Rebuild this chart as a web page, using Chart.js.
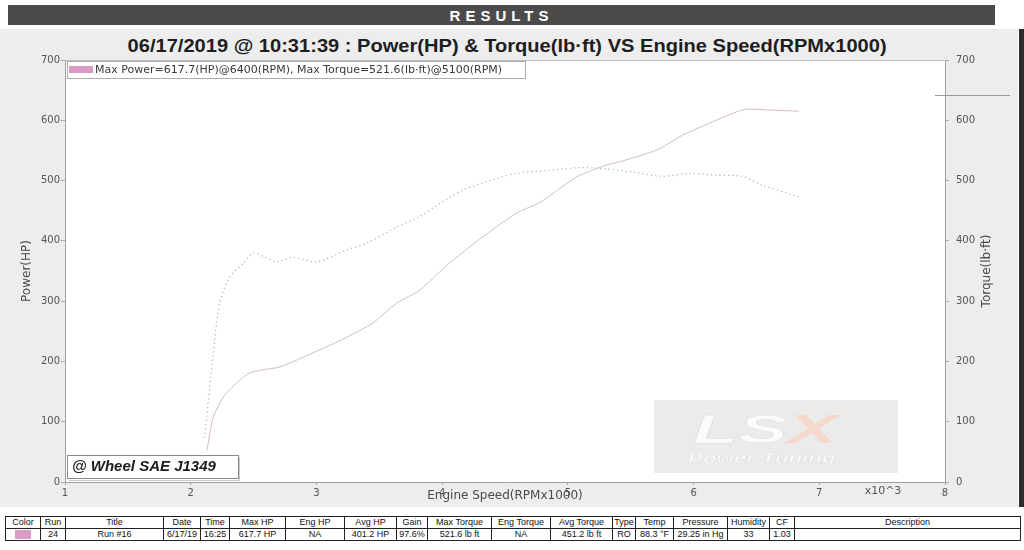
<!DOCTYPE html>
<html><head><meta charset="utf-8">
<script src="https://cdn.jsdelivr.net/npm/chart.js@4.4.0/dist/chart.umd.min.js"></script>
<style>
html,body{margin:0;padding:0;background:#fff;}
body{width:1024px;height:550px;position:relative;overflow:hidden;}
#panel{position:absolute;left:0;top:29px;width:1018px;height:478px;background:#ededed;}
#edge{position:absolute;left:1019px;top:29px;width:5px;height:478px;background:#2b2b2b;}
#banner{position:absolute;left:8px;top:5px;width:987px;height:20px;background:#4b4b4b;color:#fff;font:bold 15px "Liberation Sans",Arial,sans-serif;letter-spacing:5px;text-align:center;line-height:21px;}
#title{position:absolute;left:0;top:35px;width:1014px;text-align:center;font:bold 19px "Liberation Sans",Arial,sans-serif;color:#1e1e1e;white-space:nowrap;}
#title span{display:inline-block;transform-origin:50% 50%;}
canvas{position:absolute;left:0;top:0;}
table{position:absolute;left:5px;top:516px;width:1015px;border-collapse:collapse;table-layout:fixed;font:9px "Liberation Sans Narrow","Liberation Sans",Arial,sans-serif;color:#111;background:#fff;}
td{border:1px solid #222;text-align:center;padding:0;height:11px;line-height:11px;white-space:nowrap;overflow:hidden;}
.sw{display:inline-block;width:16px;height:9px;background:#d99cc6;vertical-align:middle;}
</style></head>
<body>
<div id="panel"></div>
<div id="edge"></div>
<div id="banner">RESULTS</div>
<div id="title"><span id="tt">06/17/2019 @ 10:31:39 : Power(HP) &amp; Torque(lb·ft) VS Engine Speed(RPMx1000)</span></div>
<canvas id="c" width="1024" height="550"></canvas>
<table id="tbl"></table>
<script>
// ---- data ----
const rpmPower = [2.13, 2.18, 2.26, 2.31, 2.39, 2.47, 2.57, 2.71, 2.97, 3.24, 3.45, 3.64, 3.82, 4.04, 4.22, 4.32, 4.59, 4.78, 5.07, 5.31, 5.41, 5.71, 5.91, 6.18, 6.40, 6.60, 6.84];
const powerHP  = [53, 108, 141, 153, 169, 181, 186, 191, 214, 240, 264, 297, 318, 360, 390, 406, 446, 464, 506, 526, 531, 551, 575, 600, 617.7, 617, 615];
const rpmTorque = [2.11, 2.18, 2.23, 2.31, 2.42, 2.50, 2.60, 2.68, 2.81, 3.00, 3.24, 3.40, 3.64, 3.82, 3.98, 4.16, 4.32, 4.59, 4.86, 5.10, 5.31, 5.52, 5.75, 5.97, 6.18, 6.39, 6.55, 6.84];
const torqueLbFt = [73, 214, 297, 340, 363, 380, 372, 365, 373, 365, 385, 396, 423, 440, 462, 484, 496, 512, 517, 521.6, 519, 514, 507, 512, 509, 507, 492, 473];
const xTicks = [1, 2, 3, 4, 5, 6, 7, 8];
const yTicks = [0, 100, 200, 300, 400, 500, 600, 700];
const tableHeaders = ["Color","Run","Title","Date","Time","Max HP","Eng HP","Avg HP","Gain","Max Torque","Eng Torque","Avg Torque","Type","Temp","Pressure","Humidity","CF","Description"];
const tableRow = ["", "24", "Run #16", "6/17/19", "16:25", "617.7 HP", "NA", "401.2 HP", "97.6%", "521.6 lb ft", "NA", "451.2 lb ft", "RO", "88.3 °F", "29.25 in Hg", "33", "1.03", ""];
const colWidths = [35,25,98,37,29,56,59,52,31,64,59,62,23,38,54,42,25,226];

// ---- table ----
(function(){
  const t = document.getElementById('tbl');
  const cg = document.createElement('colgroup');
  colWidths.forEach(w=>{const c=document.createElement('col');c.style.width=w+'px';cg.appendChild(c);});
  t.appendChild(cg);
  const r1 = t.insertRow(); tableHeaders.forEach(h=>{r1.insertCell().textContent=h;});
  const r2 = t.insertRow(); tableRow.forEach((v,i)=>{const c=r2.insertCell(); if(i===0){c.innerHTML='<span class="sw"></span>';} else c.textContent=v;});
})();
// fit title width
(function(){const s=document.getElementById('tt');const w=s.getBoundingClientRect().width;s.style.transform='scaleX('+(759/w)+')';})();

// ---- derived legend text ----
const iP = powerHP.indexOf(Math.max(...powerHP));
const iT = torqueLbFt.indexOf(Math.max(...torqueLbFt));
const legendText = 'Max Power=' + powerHP[iP].toFixed(1) + '(HP)@' + Math.round(rpmPower[iP]*1000) + '(RPM), Max Torque=' + torqueLbFt[iT].toFixed(1) + '(lb·ft)@' + Math.round(rpmTorque[iT]*1000) + '(RPM)';

const FONT = '"DejaVu Sans", Verdana, sans-serif';

const decor = {
  id:'decor',
  beforeDraw(chart){
    const {ctx, chartArea:a} = chart;
    ctx.save();
    ctx.fillStyle = '#ffffff';
    ctx.fillRect(a.left, a.top, a.right-a.left, a.bottom-a.top);
    // watermark
    ctx.fillStyle = '#ebebeb';
    ctx.fillRect(654, 400, 244, 73);
    ctx.font = 'italic bold 40px "Liberation Sans", Arial';
    ctx.textBaseline = 'alphabetic';
    ctx.save(); ctx.translate(693, 443); ctx.scale(1.85, 1);
    ctx.fillStyle = '#fbfbfb'; ctx.strokeStyle = '#e0e0e0'; ctx.lineWidth = 0.6;
    ctx.fillText('LS', 0, 0); ctx.strokeText('LS', 0, 0);
    const wls = ctx.measureText('LS').width;
    ctx.fillStyle = '#f4d9cc'; ctx.fillText('X', wls, 0);
    ctx.restore();
    ctx.save(); ctx.translate(688, 463); ctx.scale(1.6, 1);
    ctx.font = 'italic bold 14px "Liberation Sans", Arial';
    ctx.fillStyle = '#fafafa'; ctx.strokeStyle = '#e2e2e2'; ctx.lineWidth = 0.5;
    ctx.fillText('Power Tuning', 0, 0); ctx.strokeText('Power Tuning', 0, 0);
    ctx.restore();
    ctx.restore();
  },
  afterDraw(chart){
    const {ctx, chartArea:a} = chart;
    ctx.save();
    // plot border
    ctx.strokeStyle = '#bdbdbd'; ctx.lineWidth = 1;
    ctx.beginPath(); ctx.moveTo(a.left+0.5, a.top+0.5); ctx.lineTo(a.right-0.5, a.top+0.5); ctx.stroke();
    // legend box
    ctx.fillStyle = '#ffffff';
    ctx.fillRect(67, 61, 458, 17);
    ctx.strokeStyle = '#adadad';
    ctx.strokeRect(67.5, 61.5, 458, 17);
    ctx.fillStyle = '#d99cc6';
    ctx.fillRect(69, 66, 24, 7);
    ctx.fillStyle = '#3a3a3a';
    ctx.font = '11px ' + FONT;
    ctx.textBaseline = 'middle'; ctx.textAlign = 'left';
    ctx.fillText(legendText, 95, 70);
    // wheel box
    ctx.fillStyle = '#ffffff';
    ctx.fillRect(67, 455, 171, 24);
    ctx.strokeStyle = '#8a8a8a';
    ctx.strokeRect(67.5, 455.5, 171, 23);
    ctx.strokeStyle = '#c8c8c8';
    ctx.beginPath(); ctx.moveTo(239.5, 457); ctx.lineTo(239.5, 480.5); ctx.lineTo(69, 480.5); ctx.stroke();
    ctx.fillStyle = '#1a1a1a';
    ctx.font = 'italic bold 15px "Liberation Sans", Arial';
    ctx.fillText('@ Wheel SAE J1349', 72, 467);
    // axis titles
    ctx.fillStyle = '#4a4a4a';
    ctx.font = '12px ' + FONT;
    ctx.textAlign = 'center';
    const my = (a.top + a.bottom)/2;
    ctx.save(); ctx.translate(27, my); ctx.rotate(-Math.PI/2); ctx.fillText('Power(HP)', 0, 0); ctx.restore();
    ctx.save(); ctx.translate(987, my); ctx.rotate(-Math.PI/2); ctx.fillText('Torque(lb·ft)', 0, 0); ctx.restore();
    ctx.fillText('Engine Speed(RPMx1000)', (a.left+a.right)/2, a.bottom + 14);
    ctx.font = '11px ' + FONT;
    ctx.fillStyle = '#555';
    ctx.fillText('x10^3', 883, a.bottom + 9);
    // scan artifact line near right axis
    ctx.strokeStyle = '#9a9a9a';
    ctx.beginPath(); ctx.moveTo(935, 95.5); ctx.lineTo(1010, 95.5); ctx.stroke();
    ctx.restore();
  }
};

const tickFont = {family: FONT, size: 10};
new Chart(document.getElementById('c'), {
  type: 'line',
  data: {
    datasets: [
      {label:'Power(HP)', data: rpmPower.map((x,i)=>({x, y: powerHP[i]})), yAxisID:'y', borderColor:'#d3bdc8', borderWidth:1, pointRadius:0, tension:0.25, fill:false},
      {label:'Torque(lb·ft)', data: rpmTorque.map((x,i)=>({x, y: torqueLbFt[i]})), yAxisID:'y1', borderColor:'#c2b4bb', borderWidth:1.3, borderDash:[1.3,3], pointRadius:0, tension:0.25, fill:false}
    ]
  },
  options: {
    responsive:false, animation:false, devicePixelRatio:1,
    layout:{padding:{top:60, left:0, right:0, bottom:0}},
    plugins:{legend:{display:false}, tooltip:{enabled:false}},
    scales:{
      x:{type:'linear', min:xTicks[0], max:xTicks[xTicks.length-1],
        afterBuildTicks: s=>{ s.ticks = xTicks.map(v=>({value:v})); },
        grid:{drawOnChartArea:false, tickLength:3, color:'#aaaaaa'},
        border:{color:'#a0a0a0'},
        ticks:{padding:2, color:'#555', font:tickFont, maxRotation:0, autoSkip:false},
        afterFit: s=>{ s.height = 68; }
      },
      y:{position:'left', min:yTicks[0], max:yTicks[yTicks.length-1],
        afterBuildTicks: s=>{ s.ticks = yTicks.map(v=>({value:v})); },
        grid:{drawOnChartArea:false, tickLength:4, color:'#aaaaaa'},
        border:{color:'#a0a0a0'},
        ticks:{padding:1, color:'#555', font:tickFont, autoSkip:false},
        afterFit: s=>{ s.width = 65; }
      },
      y1:{position:'right', min:yTicks[0], max:yTicks[yTicks.length-1],
        afterBuildTicks: s=>{ s.ticks = yTicks.map(v=>({value:v})); },
        grid:{drawOnChartArea:false, tickLength:4, color:'#aaaaaa'},
        border:{color:'#a0a0a0'},
        ticks:{padding:7, color:'#555', font:tickFont, autoSkip:false},
        afterFit: s=>{ s.width = 79; }
      }
    }
  },
  plugins:[decor]
});
</script>
</body></html>
